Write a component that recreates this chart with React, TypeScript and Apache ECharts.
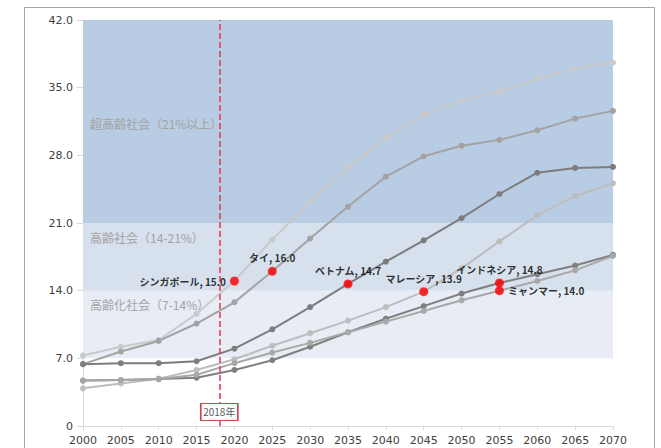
import React, { useEffect, useRef } from "react";
import * as echarts from "echarts";

const years = [2000, 2005, 2010, 2015, 2020, 2025, 2030, 2035, 2040, 2045, 2050, 2055, 2060, 2065, 2070];

const singapore = [7.3, 8.2, 8.9, 11.6, 15.0, 19.3, 23.2, 26.8, 29.8, 32.2, 33.7, 34.6, 35.9, 37.0, 37.6];
const thailand = [6.4, 7.7, 8.8, 10.6, 12.8, 16.0, 19.4, 22.7, 25.8, 27.9, 29.0, 29.6, 30.6, 31.8, 32.6];
const vietnam = [6.4, 6.5, 6.5, 6.7, 8.0, 10.0, 12.3, 14.7, 17.0, 19.2, 21.5, 24.0, 26.2, 26.7, 26.8];
const malaysia = [3.9, 4.4, 4.9, 5.8, 6.9, 8.3, 9.6, 10.9, 12.3, 13.9, 16.3, 19.1, 21.8, 23.8, 25.1];
const indonesia = [4.7, 4.75, 4.85, 5.0, 5.8, 6.8, 8.2, 9.7, 11.1, 12.4, 13.7, 14.8, 15.7, 16.6, 17.7];
const myanmar = [4.7, 4.75, 4.85, 5.3, 6.5, 7.6, 8.6, 9.7, 10.8, 11.9, 13.0, 14.0, 15.0, 16.1, 17.6];

const seriesNames = ["シンガポール", "タイ", "ベトナム", "マレーシア", "インドネシア", "ミャンマー"];
const seriesValues = [singapore, thailand, vietnam, malaysia, indonesia, myanmar];
const seriesColors = ["#cacaca", "#a3a3a3", "#7d7d7d", "#bdbdbd", "#7f7f7f", "#a8a8a8"];

// milestone points (country, year, value, label position)
const milestoneNames = ["シンガポール", "タイ", "ベトナム", "マレーシア", "インドネシア", "ミャンマー"];
const milestoneYears = [2020, 2025, 2035, 2045, 2055, 2055];
const milestoneValues = [15.0, 16.0, 14.7, 13.9, 14.8, 14.0];
const milestonePos = ["left", "top", "top", "top", "top", "right"];

const bandRanges = [[21, 42], [14, 21], [7, 14]];
const bandColors = ["#b8cce4", "#d7e0ed", "#e7ecf5"];
const bandLabels = ["超高齢社会（21%以上）", "高齢社会（14-21%）", "高齢化社会（7-14%）"];

const markYear = 2018;
const markLabel = "2018年";

const yTicks = [0, 7, 14, 21, 28, 35, 42];

export default function App() {
  const ref = useRef<HTMLDivElement>(null);
  useEffect(() => {
    if (!ref.current) return;
    const chart = echarts.init(ref.current, null, { renderer: "svg" });
    const lineSeries = seriesValues.map((vals, i) => ({
      type: "line",
      name: seriesNames[i],
      data: years.map((y, j) => [y, vals[j]]),
      symbol: "circle",
      symbolSize: 6,
      showSymbol: true,
      lineStyle: { color: seriesColors[i], width: 2 },
      itemStyle: { color: seriesColors[i] },
      z: 3,
    }));
    const option: any = {
      animation: false,
      grid: { left: 83, right: 48, top: 20, bottom: 22, containLabel: false },
      xAxis: {
        type: "value",
        min: 2000,
        max: 2070,
        interval: 5,
        axisLine: { show: true, lineStyle: { color: "#d9d9d9" } },
        axisTick: { show: true, length: 4, lineStyle: { color: "#d9d9d9" } },
        axisLabel: { color: "#404040", fontSize: 11, fontFamily: "DejaVu Sans", margin: 9, formatter: (v: number) => String(v) },
        splitLine: { show: false },
      },
      yAxis: {
        type: "value",
        min: yTicks[0],
        max: yTicks[yTicks.length - 1],
        interval: 7,
        axisLine: { show: true, lineStyle: { color: "#d9d9d9" } },
        axisTick: { show: true, length: 6, lineStyle: { color: "#d9d9d9" } },
        axisLabel: {
          color: "#404040",
          fontSize: 11,
          fontFamily: "DejaVu Sans",
          margin: 10,
          formatter: (v: number) => (v === 0 ? "0" : v.toFixed(1)),
        },
        splitLine: { show: false },
      },
      graphic: [
        {
          type: "rect",
          shape: { x: 24.5, y: 7.5, width: 630, height: 470 },
          style: { fill: "none", stroke: "#a6a6a6", lineWidth: 1 },
          silent: true,
          z: 100,
        },
        ...bandLabels.map((t, i) => ({
          type: "text",
          x: 90,
          y: [123, 237, 304][i],
          style: {
            text: t,
            fill: "#a3a3a3",
            font: '12px "Noto Sans CJK JP"',
            textVerticalAlign: "middle",
          },
          z: 5,
        })),
      ],
      series: [
        {
          type: "line",
          data: [],
          markArea: {
            silent: true,
            itemStyle: { opacity: 1 },
            data: bandRanges.map((r, i) => [
              { yAxis: r[0], itemStyle: { color: bandColors[i] } },
              { yAxis: r[1] },
            ]),
          },
          z: 1,
        },
        {
          type: "line",
          data: [],
          markLine: {
            silent: true,
            symbol: "none",
            label: { show: false },
            lineStyle: { color: "#e8334f", type: [6, 3], width: 1.5, opacity: 1 },
            data: [{ xAxis: markYear }],
          },
          markPoint: {
            silent: true,
            symbol: "rect",
            symbolSize: [37, 17],
            itemStyle: { color: "#ffffff", borderColor: "#c0504d", borderWidth: 1.2 },
            label: { show: true, formatter: markLabel, color: "#595959", fontSize: 10, fontFamily: "Noto Sans CJK JP" },
            data: [{ coord: [markYear, 1.45] }],
          },
          z: 2,
        },
        ...lineSeries,
        {
          type: "scatter",
          symbol: "circle",
          symbolSize: 9,
          itemStyle: { color: "#ff0000" },
          z: 10,
          data: milestoneNames.map((n, i) => ({
            value: [milestoneYears[i], milestoneValues[i]],
            name: n,
            label: { position: milestonePos[i] },
          })),
          label: {
            show: true,
            formatter: (p: any) => `${p.name}, ${p.value[1].toFixed(1)}`,
            color: "#000000",
            fontWeight: "bold",
            fontSize: 10,
            fontFamily: "Noto Sans CJK JP",
            distance: 4,
          },
        },
      ],
    };
    chart.setOption(option);
    return () => chart.dispose();
  }, []);
  return (
    <div
      ref={ref}
      style={{ position: "fixed", left: 0, top: 0, width: 661, height: 448, background: "#ffffff" }}
    />
  );
}
